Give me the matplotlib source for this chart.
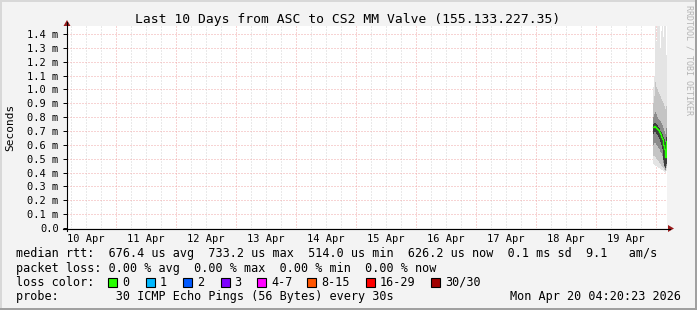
import matplotlib
matplotlib.use("Agg")
import matplotlib.pyplot as plt
from matplotlib.patches import Rectangle, Polygon
from matplotlib.lines import Line2D
from datetime import datetime, timedelta
import numpy as np

W, H = 697, 310
MONO = "DejaVu Sans Mono"

title = "Last 10 Days from ASC to CS2 MM Valve (155.133.227.35)"
end_time = datetime(2026, 4, 20, 4, 20, 23)
step = timedelta(minutes=24)

# smoke levels per column in ms, oldest column first
hi0 = [1.02, 1.10, 1.52, 1.35, 1.55, 1.48, 1.60, 1.30, 1.42, 1.55, 1.38, 1.60, 1.50, 1.25]
hi1 = [0.90, 0.95, 1.05, 1.02, 1.00, 0.98, 0.97, 0.95, 0.93, 0.92, 0.90, 0.88, 0.86, 0.88]
hi2 = [0.80, 0.82, 0.84, 0.82, 0.80, 0.79, 0.78, 0.77, 0.76, 0.74, 0.72, 0.70, 0.68, 0.72]
hi3 = [0.75, 0.76, 0.76, 0.75, 0.74, 0.73, 0.72, 0.70, 0.69, 0.68, 0.66, 0.64, 0.62, 0.66]
median = [0.727, 0.733, 0.731, 0.725, 0.715, 0.705, 0.690, 0.675, 0.660, 0.645, 0.600, 0.570, 0.514, 0.626]
lo3 = [0.68, 0.69, 0.69, 0.68, 0.67, 0.66, 0.64, 0.62, 0.60, 0.57, 0.49, 0.45, 0.43, 0.46]
lo2 = [0.60, 0.61, 0.61, 0.60, 0.59, 0.58, 0.57, 0.55, 0.54, 0.52, 0.47, 0.44, 0.42, 0.45]
lo1 = [0.52, 0.52, 0.51, 0.50, 0.49, 0.48, 0.47, 0.46, 0.45, 0.44, 0.43, 0.42, 0.41, 0.43]
lo0 = [0.46, 0.455, 0.45, 0.445, 0.44, 0.435, 0.43, 0.425, 0.42, 0.415, 0.41, 0.405, 0.40, 0.41]

y_ticks = [0.0, 0.1, 0.2, 0.3, 0.4, 0.5, 0.6, 0.7, 0.8, 0.9, 1.0, 1.1, 1.2, 1.3, 1.4]
y_top = 1.4577

loss_labels = ["0", "1", "2", "3", "4-7", "8-15", "16-29", "30/30"]
loss_colors = ["#26ff00", "#00b8ff", "#0059ff", "#7e00ff", "#ff00ff", "#ff5500", "#ff0000", "#a00000"]
loss_box_x = [108, 145.5, 183, 220.5, 257, 307, 366, 431]

legend_lines = [
    "median rtt:  676.4 us avg  733.2 us max  514.0 us min  626.2 us now  0.1 ms sd  9.1   am/s",
    "packet loss: 0.00 % avg  0.00 % max  0.00 % min  0.00 % now",
    "loss color:",
    "probe:        30 ICMP Echo Pings (56 Bytes) every 30s",
]
stamp = "Mon Apr 20 04:20:23 2026"


def fx(x):
    return x / W


def fy(y):
    return 1 - y / H


fig = plt.figure(figsize=(W / 100, H / 100), dpi=100)
fig.patch.set_facecolor("#f3f3f3")

ax = fig.add_axes([fx(67), fy(228), 600 / W, 202 / H])
ax.set_facecolor("white")
for s in ax.spines.values():
    s.set_visible(False)

start_time = end_time - timedelta(days=10)
ax.set_xlim(start_time, end_time)
ax.set_ylim(0, y_top)

# grid: 6h minor gray, midnight red, horizontal red at every label
t = datetime(2026, 4, 10, 6)
while t < end_time:
    col = "#f0a8a8" if t.hour == 0 else "#d4d4d4"
    ax.axvline(t, color=col, lw=0.72, ls=(0, (1, 2)), zorder=0)
    t += timedelta(hours=6)
for v in y_ticks[1:]:
    ax.axhline(v, color="#f0a8a8", lw=0.72, ls=(0, (1, 2)), zorder=0)

# smoke
n = len(median)
edges = [end_time - step * (n - i) for i in range(n + 1)]
def ext(a):
    return np.append(a, a[-1])

layers = [(lo0, hi0, "#e4e4e4"), (lo1, hi1, "#c4c4c4"), (lo2, hi2, "#8c8c8c"), (lo3, hi3, "#3c3c3c")]
for lo, hi, c in layers:
    ax.fill_between(edges, ext(lo), ext(hi), step="post", color=c, lw=0, zorder=2)
ax.step(edges, ext(median), where="post", color=loss_colors[0], lw=1.0, zorder=3)

# ticks
ax.set_yticks(y_ticks)
ax.set_yticklabels(["0.0"] + ["%.1f m" % v for v in y_ticks[1:]])
noon = [datetime(2026, 4, d, 12) for d in range(10, 20)]
ax.set_xticks(noon)
ax.set_xticklabels([d.strftime("%d %b") for d in noon])
ax.tick_params(axis="y", length=3, width=0.7, pad=3, labelsize=7.5, color="black")
ax.tick_params(axis="x", length=0, pad=4, labelsize=7.5)
for lab in ax.get_xticklabels() + ax.get_yticklabels():
    lab.set_family(MONO)

# axes lines and arrows
fig.add_artist(Line2D([fx(67), fx(67)], [fy(231), fy(22)], color="black", lw=0.8))
fig.add_artist(Line2D([fx(63), fx(670)], [fy(228.5), fy(228.5)], color="black", lw=0.8))
fig.add_artist(Polygon([(fx(63.5), fy(26)), (fx(70.5), fy(26)), (fx(67), fy(20))],
                       closed=True, color="#9a1c1c", lw=0))
fig.add_artist(Polygon([(fx(668), fy(225)), (fx(668), fy(232)), (fx(674), fy(228.5))],
                       closed=True, color="#9a1c1c", lw=0))

# texts
fig.text(fx(348), fy(19), title, family=MONO, fontsize=9.4, ha="center", va="center")
fig.text(fx(10), fy(127), "Seconds", family=MONO, fontsize=8, rotation=90, ha="center", va="center")
fig.text(fx(689), fy(5), "RRDTOOL / TOBI OETIKER", family=MONO, fontsize=6, rotation=270,
         ha="center", va="top", color="#b4b4b4")

line_y = [254, 268.3, 282, 296.5]
for s, y in zip(legend_lines, line_y):
    fig.text(fx(16), fy(y), s, family=MONO, fontsize=8.5, ha="left", va="center")
fig.text(fx(681), fy(line_y[3]), stamp, family=MONO, fontsize=8.5, ha="right", va="center")

for bx, lab, c in zip(loss_box_x, loss_labels, loss_colors):
    fig.add_artist(Rectangle((fx(bx), fy(line_y[2] + 4.5)), 9 / W, 9 / H, facecolor=c,
                             edgecolor="black", lw=0.8))
    fig.text(fx(bx + 14), fy(line_y[2]), lab, family=MONO, fontsize=8.5, ha="left", va="center")

# frame
fig.add_artist(Rectangle((0, fy(2)), 1, 2 / H, color="#d8d8d8", lw=0))
fig.add_artist(Rectangle((0, 0), 2 / W, 1, color="#d8d8d8", lw=0))
fig.add_artist(Rectangle((0, 0), 1, 2 / H, color="#a0a0a0", lw=0))
fig.add_artist(Rectangle((fx(695), 0), 2 / W, 1, color="#a0a0a0", lw=0))

fig.savefig("out.png", dpi=100, facecolor=fig.get_facecolor())
